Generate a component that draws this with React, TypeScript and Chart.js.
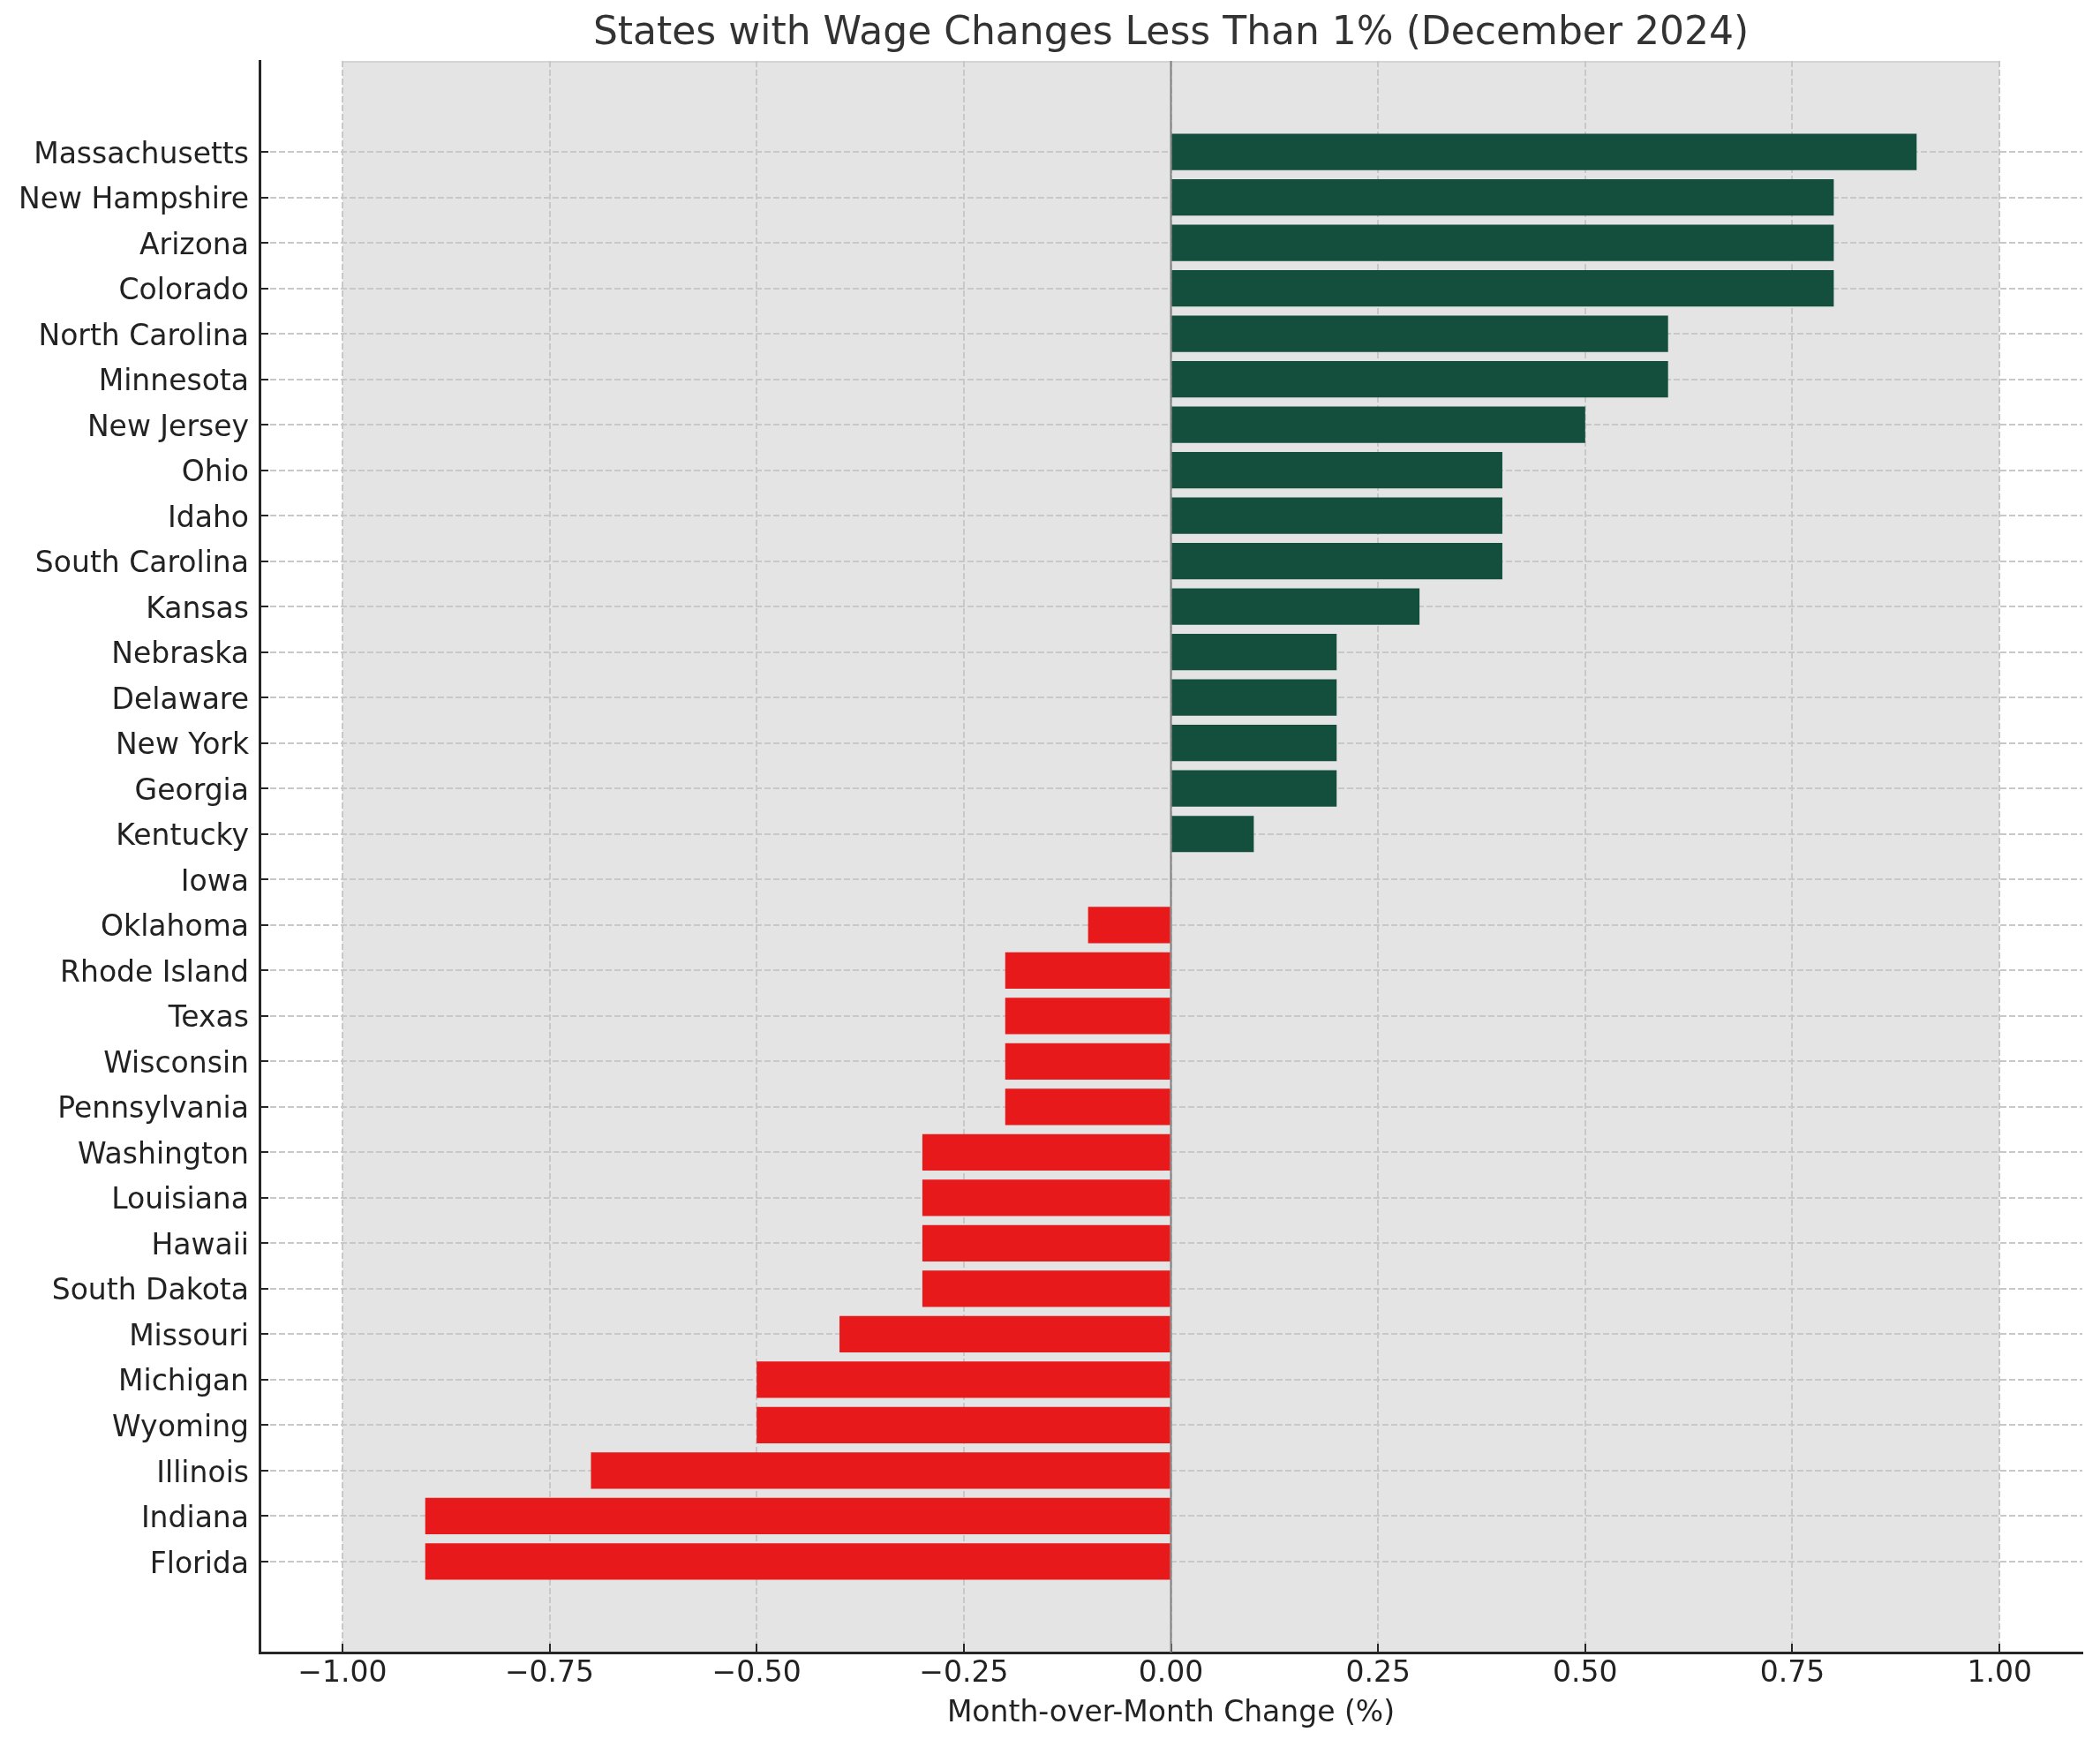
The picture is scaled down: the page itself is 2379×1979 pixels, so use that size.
import React, { useEffect, useRef } from 'react';
import { Chart, registerables } from 'chart.js';

Chart.register(...registerables);

const FONT = 'DejaVu Sans';
const chartTitle = 'States with Wage Changes Less Than 1% (December 2024)';
const xAxisTitle = 'Month-over-Month Change (%)';

const states = [
  'Massachusetts', 'New Hampshire', 'Arizona', 'Colorado', 'North Carolina', 'Minnesota',
  'New Jersey', 'Ohio', 'Idaho', 'South Carolina', 'Kansas', 'Nebraska', 'Delaware',
  'New York', 'Georgia', 'Kentucky', 'Iowa', 'Oklahoma', 'Rhode Island', 'Texas',
  'Wisconsin', 'Pennsylvania', 'Washington', 'Louisiana', 'Hawaii', 'South Dakota',
  'Missouri', 'Michigan', 'Wyoming', 'Illinois', 'Indiana', 'Florida',
];

const changes = [
  0.9, 0.8, 0.8, 0.8, 0.6, 0.6,
  0.5, 0.4, 0.4, 0.4, 0.3, 0.2, 0.2,
  0.2, 0.2, 0.1, 0, -0.1, -0.2, -0.2,
  -0.2, -0.2, -0.3, -0.3, -0.3, -0.3,
  -0.4, -0.5, -0.5, -0.7, -0.9, -0.9,
];

const xTickValues = [-1, -0.75, -0.5, -0.25, 0, 0.25, 0.5, 0.75, 1];
const xTickLabels = ['\u22121.00', '\u22120.75', '\u22120.50', '\u22120.25', '0.00', '0.25', '0.50', '0.75', '1.00'];
const shadedRange = [-1, 1];

const POS_COLOR = '#144f3e';
const NEG_COLOR = '#e8191a';

const backdropPlugin = {
  id: 'backdrop',
  beforeDraw(chart: any) {
    const { ctx, chartArea, scales } = chart;
    const x = scales.x;
    const l = x.getPixelForValue(shadedRange[0]);
    const r = x.getPixelForValue(shadedRange[1]);
    ctx.save();
    ctx.fillStyle = '#e4e4e4';
    ctx.fillRect(l, chartArea.top, r - l, chartArea.bottom - chartArea.top);
    ctx.fillStyle = '#d4d4d4';
    ctx.fillRect(l, chartArea.top, r - l, 2);
    ctx.restore();
  },
  beforeDatasetsDraw(chart: any) {
    const { ctx, chartArea, scales } = chart;
    const x0 = scales.x.getPixelForValue(0);
    ctx.save();
    ctx.strokeStyle = '#808080';
    ctx.lineWidth = 2;
    ctx.beginPath();
    ctx.moveTo(x0, chartArea.top);
    ctx.lineTo(x0, chartArea.bottom);
    ctx.stroke();
    ctx.restore();
  },
};

export default function App() {
  const ref = useRef<HTMLCanvasElement | null>(null);

  useEffect(() => {
    if (!ref.current) return;
    const chart = new Chart(ref.current, {
      type: 'bar',
      data: {
        datasets: [
          {
            data: states.map((_, i) => ({ x: changes[i], y: i })),
            backgroundColor: changes.map((v) => (v >= 0 ? POS_COLOR : NEG_COLOR)),
            borderWidth: 0,
            barPercentage: 0.8,
            categoryPercentage: 1.0,
          },
        ],
      },
      options: {
        indexAxis: 'y',
        responsive: false,
        maintainAspectRatio: false,
        animation: false,
        devicePixelRatio: 1,
        layout: { padding: { top: 0, right: 12, bottom: 0, left: 0 } },
        plugins: {
          legend: { display: false },
          tooltip: { enabled: false },
          title: {
            display: true,
            text: chartTitle,
            fullSize: false,
            color: '#333333',
            font: { family: FONT, size: 44, weight: 'normal' },
            padding: { top: 3.7, bottom: 4.5 },
          },
        },
        scales: {
          x: {
            type: 'linear',
            position: 'bottom',
            min: -1.1,
            max: 1.1,
            bounds: 'data',
            offset: false,
            afterBuildTicks: (s: any) => {
              s.ticks = xTickValues.map((v) => ({ value: v }));
            },
            afterFit: (s: any) => {
              s.height = 99;
            },
            ticks: {
              autoSkip: false,
              maxRotation: 0,
              minRotation: 0,
              padding: 14.8,
              color: '#222222',
              font: { family: FONT, size: 33 },
              callback: (value: any) => xTickLabels[xTickValues.indexOf(Number(value))],
            },
            grid: {
              offset: false,
              color: '#c8c8c8',
              lineWidth: 2,
              drawTicks: true,
              tickLength: -10,
              tickColor: '#262626',
              tickWidth: 2,
              tickBorderDash: [],
            },
            border: { display: true, color: '#262626', width: 3, dash: [7, 3] },
            title: {
              display: true,
              text: xAxisTitle,
              color: '#222222',
              font: { family: FONT, size: 33 },
              padding: { top: 0, bottom: 9.6 },
            },
          },
          y: {
            type: 'linear',
            position: 'left',
            reverse: true,
            min: -2,
            max: states.length + 1,
            bounds: 'data',
            offset: false,
            afterBuildTicks: (s: any) => {
              s.ticks = states.map((_, i) => ({ value: i }));
            },
            afterFit: (s: any) => {
              s.width = 286;
            },
            ticks: {
              autoSkip: false,
              padding: 22,
              labelOffset: 4,
              color: '#222222',
              font: { family: FONT, size: 33 },
              callback: (value: any) => states[Number(value)],
            },
            grid: {
              offset: false,
              color: '#c8c8c8',
              lineWidth: 2,
              drawTicks: true,
              tickLength: -10,
              tickColor: '#262626',
              tickWidth: 2,
              tickBorderDash: [],
            },
            border: { display: true, color: '#262626', width: 3, dash: [7, 3] },
          },
        },
      } as any,
      plugins: [backdropPlugin],
    });
    return () => chart.destroy();
  }, []);

  return (
    <div style={{ width: 2363, height: 1963 }}>
      <canvas ref={ref} width={2363} height={1963} style={{ display: 'block' }} />
    </div>
  );
}
